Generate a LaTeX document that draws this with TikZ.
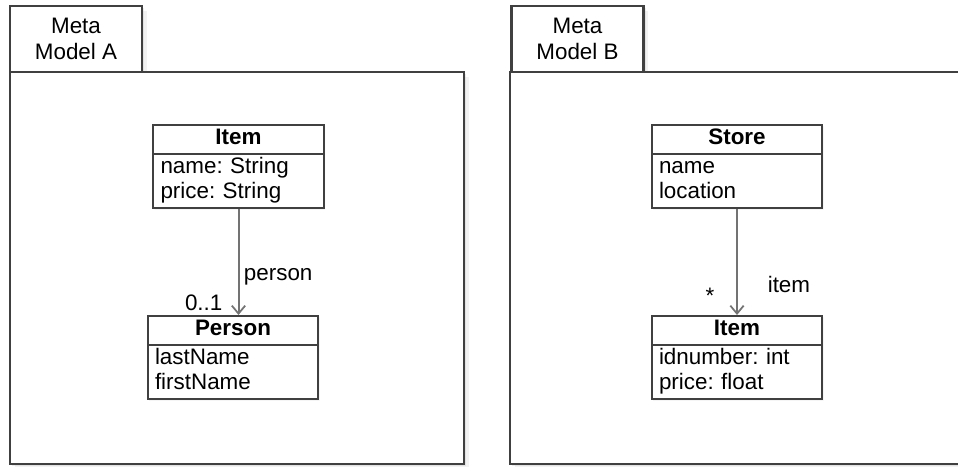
\documentclass[tikz,border=0pt]{standalone}
\usepackage{fontspec}
\setmainfont{Liberation Sans}
\usetikzlibrary{arrows.meta,positioning,shapes.multipart,shadows}

\tikzset{
  pkgline/.style={draw=black!75,line width=2pt,fill=white,
    drop shadow={opacity=0.10,shadow xshift=3.5pt,shadow yshift=-3.5pt},
    drop shadow={opacity=0.14,shadow xshift=1.5pt,shadow yshift=-1.5pt}},
  pkgtab/.style={pkgline,minimum width=99pt,minimum height=49.5pt,align=center,
    inner sep=0pt,font=\fontsize{16.8}{20}\selectfont},
  umlclass/.style={rectangle split,rectangle split parts=2,draw=black!75,
    line width=1.5pt,fill=white,text width=117pt,inner xsep=5.5pt,inner ysep=0.6pt,
    align=left,drop shadow={opacity=0.12,shadow xshift=1pt,shadow yshift=-1pt}},
  assoc/.style={draw=black!55,line width=1.5pt,
    -{Straight Barb[length=6pt,width=10pt,line width=1.3pt]}},
}
\newcommand{\classname}[1]{\makebox[\hsize]{\textbf{#1}\strut}}

\begin{document}
\frenchspacing
\begin{tikzpicture}[x=0.75pt,y=-0.75pt,font=\fontsize{16.8}{19}\selectfont]
  \useasboundingbox (0,0) rectangle (958,467);

  % meta model A
  \node[pkgtab] (tabA) at (76,39) {Meta\\Model A};
  \draw[pkgline] (10,72) rectangle (464,464);
  \node[umlclass,anchor=north] (itemA) at (238.5,124)
    {\classname{Item}\nodepart{two}name: String\strut\\price: String\strut};
  \node[umlclass,anchor=north] (personA) at (233,315)
    {\classname{Person}\nodepart{two}lastName\strut\\firstName\strut};
  \draw[assoc] (itemA.south) -- (itemA.south |- personA.north)
    node[pos=0.64,right=0pt] {person}
    node[pos=0.88,left=8pt] {0..1};

  % meta model B
  \node[pkgtab] (tabB) at (577.5,39) {Meta\\Model B};
  \draw[pkgline] (510,72) rectangle (975,464);
  \node[umlclass,anchor=north] (store) at (737,124)
    {\classname{Store}\nodepart{two}name\strut\\location\strut};
  \node[umlclass,anchor=north] (itemB) at (737,315)
    {\classname{Item}\nodepart{two}idnumber: int\strut\\price: float\strut};
  \draw[assoc] (store.south) -- (itemB.north)
    node[pos=0.71,right=19pt] {item}
    node[pos=0.82,left=13pt] {*};
\end{tikzpicture}
\end{document}
